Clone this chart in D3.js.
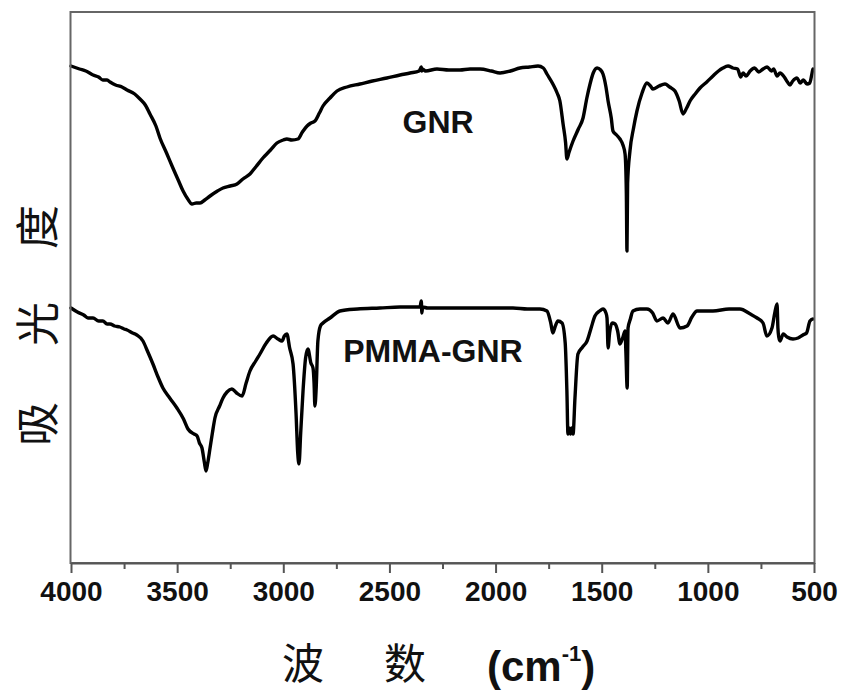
<!DOCTYPE html>
<html><head><meta charset="utf-8">
<script src="https://cdn.jsdelivr.net/npm/d3@7"></script>
<style>html,body{margin:0;padding:0;background:#fff;}</style>
</head><body><svg id="c" width="845" height="693"></svg>
<script>
// wavenumber (cm-1) and relative signal (arbitrary units)
const gnrWave = [4000,3960,3930,3896,3870,3850,3830,3816,3790,3760,3736,3700,3675,3650,3628,3600,3581,3550,3520,3495,3472,3450,3430,3410,3392,3370,3345,3310,3284,3250,3218,3190,3157,3130,3096,3060,3030,3000,2983,2960,2931,2910,2888,2870,2851,2830,2813,2780,2747,2700,2639,2580,2512,2450,2403,2360,2350,2347,2344,2330,2276,2220,2168,2120,2073,2020,1979,1930,1885,1840,1800,1775,1758,1730,1710,1697,1682,1670,1664,1655,1635,1610,1588,1570,1555,1540,1522,1505,1494,1480,1470,1455,1447,1430,1414,1400,1390,1384,1381,1378,1367,1350,1334,1310,1287,1270,1259,1230,1202,1180,1155,1135,1117,1100,1084,1060,1037,1005,976,950,929,905,882,860,845,834,820,801,780,760,740,721,700,690,674,660,640,625,613,600,580,565,550,533,520,510,505,500];
const gnrVal  = [497,494,492,488,486,483,483,481,478,476,473,469,464,458,449,437,425,410,395,383,372,364,359,360,360,363,367,372,375,377,379,384,389,396,405,413,420,423,424,423,424,431,437,440,442,450,457,465,472,476,479,482,485,488,490,492,496,492,494,492,494,493,493,494,494,492,490,492,495,496,497,495,489,479,470,462,439,420,404,410,422,434,445,465,479,490,495,493,489,476,462,445,432,428,424,418,409,370,312,380,412,435,452,470,480,477,474,477,479,476,472,462,449,455,462,469,475,481,487,492,495,497,495,494,486,490,487,492,495,491,494,496,492,494,487,490,486,481,478,482,485,480,483,479,480,489,494];

const pmmaWave = [4000,3970,3940,3920,3896,3870,3850,3830,3816,3795,3770,3750,3736,3710,3690,3661,3640,3614,3590,3567,3535,3501,3470,3449,3420,3406,3395,3383,3372,3364,3356,3345,3334,3322,3300,3284,3265,3242,3220,3194,3175,3157,3130,3110,3080,3048,3025,3006,2995,2983,2970,2954,2940,2932,2926,2918,2907,2895,2884,2870,2860,2855,2851,2845,2837,2825,2813,2780,2733,2650,2545,2450,2356,2350,2347,2344,2320,2229,2100,1918,1850,1791,1758,1740,1730,1720,1706,1687,1672,1664,1659,1653,1647,1641,1635,1626,1612,1590,1569,1550,1532,1510,1494,1480,1475,1470,1463,1451,1437,1425,1414,1400,1390,1386,1380,1376,1365,1353,1320,1287,1260,1240,1211,1188,1164,1131,1098,1075,1051,976,900,849,800,768,740,722,698,684,674,670,666,660,645,627,599,575,552,535,519,505,500];
const pmmaVal  = [255,251,248,245,245,242,242,239,239,237,236,234,233,230,228,222,212,199,186,175,165,155,144,134,129,127,120,115,101,92,100,115,130,145,157,165,171,174,170,167,180,192,202,209,220,227,224,222,227,229,215,199,150,110,99,130,172,205,214,200,195,180,157,175,222,237,240,245,252,254,255,256,256,262,250,256,255,255,255,255,254,254,252,240,230,236,242,240,220,172,129,135,129,135,129,165,209,216,222,235,247,252,254,250,245,215,230,240,239,232,219,226,232,210,175,235,244,252,254,254,250,242,245,240,249,235,237,246,252,252,254,254,249,245,240,227,235,251,259,235,226,222,229,226,224,225,228,230,242,244];

const labels = [{t:"GNR", w:2271, v:430}, {t:"PMMA-GNR", w:2295, v:201}];
const majorTicks = [4000,3500,3000,2500,2000,1500,1000,500];
const minorTicks = [3750,3250,2750,2250,1750,1250,750];

const L=71, R=814, T=12, B=563;
const svg = d3.select("#c");
const x = d3.scaleLinear().domain([4000,500]).range([L,R]);
const y = d3.scaleLinear().domain([0,551]).range([B,T]);

const line = d3.line().x(d=>x(d[0])).y(d=>y(d[1])).curve(d3.curveMonotoneX);
const gnr = gnrWave.map((w,i)=>[w,gnrVal[i]]);
const pmma = pmmaWave.map((w,i)=>[w,pmmaVal[i]]);

[gnr,pmma].forEach(s=>{
  svg.append("path").datum(s).attr("d",line).attr("fill","none").attr("stroke","#000")
    .attr("stroke-width",3.4).attr("stroke-linejoin","round").attr("stroke-linecap","round");
});

// frame
svg.append("rect").attr("x",L-0.5).attr("y",T).attr("width",R-L+1).attr("height",B-T)
  .attr("fill","none").attr("stroke","#666").attr("stroke-width",2);

// bottom axis
const ax = svg.append("g").attr("transform",`translate(0,${B})`)
  .call(d3.axisBottom(x).tickValues(majorTicks).tickSize(10).tickSizeOuter(0).tickPadding(8).tickFormat(d3.format("d")));
ax.select(".domain").attr("stroke","#555").attr("stroke-width",2);
ax.selectAll(".tick line").attr("stroke","#555").attr("stroke-width",2);
ax.selectAll(".tick text").attr("font-family","'Liberation Sans', Arial, sans-serif").attr("font-weight","bold").attr("font-size",28).attr("fill","#111");
const mx = svg.append("g").attr("transform",`translate(0,${B})`)
  .call(d3.axisBottom(x).tickValues(minorTicks).tickSize(6).tickSizeOuter(0).tickFormat(""));
mx.select(".domain").remove();
mx.selectAll(".tick line").attr("stroke","#555").attr("stroke-width",2);

// series labels
svg.selectAll("text.lab").data(labels).enter().append("text").attr("class","lab")
  .attr("x",d=>x(d.w)).attr("y",d=>y(d.v)).attr("text-anchor","middle")
  .attr("font-family","'Liberation Sans', Arial, sans-serif").attr("font-weight","bold").attr("font-size",32).attr("fill","#111")
  .text(d=>d.t);

// x title
const cjk = "'Noto Sans CJK SC', sans-serif";
svg.append("text").attr("x",303).attr("y",679).attr("text-anchor","middle").attr("font-family",cjk).attr("font-size",42).attr("fill","#111").text("波");
svg.append("text").attr("x",405).attr("y",679).attr("text-anchor","middle").attr("font-family",cjk).attr("font-size",42).attr("fill","#111").text("数");
const xt = svg.append("text").attr("x",487).attr("y",681).attr("font-family","'Liberation Sans', Arial, sans-serif").attr("font-weight","bold").attr("font-size",42).attr("fill","#111");
xt.append("tspan").text("(cm");
xt.append("tspan").attr("font-size",22).attr("dy",-20).text("-1");
xt.append("tspan").attr("dy",20).text(")");

// y title (rotated)
[["度",227],["光",324],["吸",424]].forEach(([c,cy])=>{
  svg.append("text").attr("transform",`translate(54,${cy}) rotate(-90)`).attr("text-anchor","middle")
    .attr("font-family",cjk).attr("font-size",44).attr("fill","#111").text(c);
});
</script></body></html>
